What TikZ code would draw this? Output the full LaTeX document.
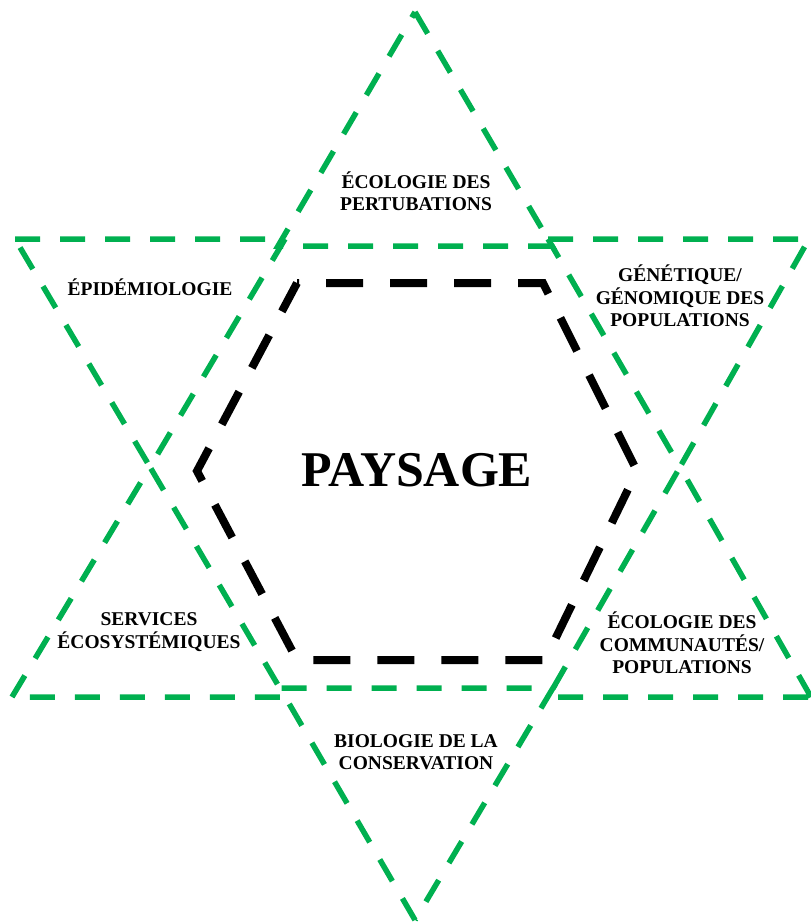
\documentclass[tikz,border=0pt]{standalone}
\usepackage{fontspec}
\setmainfont{Liberation Serif}
\definecolor{leafgreen}{HTML}{00B050}

\begin{document}
\begin{tikzpicture}[
    x=1pt, y=-1pt,
    tri/.style={draw=leafgreen, line width=5.5pt, dash pattern=on 25pt off 20pt},
    hexa/.style={draw=black, line width=8pt, dash pattern=on 37pt off 27pt, dash phase=35pt},
    field/.style={font=\bfseries\fontsize{19.5}{22.5}\selectfont, align=center, inner sep=0pt},
    core/.style={font=\bfseries\fontsize{50}{56}\selectfont, inner sep=0pt}
]
\useasboundingbox (0,0) rectangle (811,922);

% outer triangles
\draw[tri] (415,12) -- (552,246) -- (278,246) -- cycle; % top
\draw[tri] (15,239) -- (285,239) -- (150,467) -- cycle; % upper left
\draw[tri] (548,239) -- (809,239) -- (680,467) -- cycle; % upper right
\draw[tri] (12,697) -- (150,467) -- (285,697) -- cycle; % lower left
\draw[tri] (811,697) -- (680,467) -- (548,697) -- cycle; % lower right
\draw[tri] (415,920) -- (280,688) -- (553,688) -- cycle; % bottom

% central hexagon
\draw[hexa] (297,283) -- (543,283) -- (637,471) -- (545,660) -- (297,660) -- (197,471) -- cycle;

% labels
\node[core] (paysage) at (417,470) {PAYSAGE};
\node[field] (pert) at (416,191) {ÉCOLOGIE DES\\PERTUBATIONS};
\node[field] (epid) at (150,287) {ÉPIDÉMIOLOGIE};
\node[field] (gene) at (680,296) {GÉNÉTIQUE/\\GÉNOMIQUE DES\\POPULATIONS};
\node[field] (serv) at (149,632) {SERVICES\\ÉCOSYSTÉMIQUES};
\node[field] (comm) at (682,643) {ÉCOLOGIE DES\\COMMUNAUTÉS/\\POPULATIONS};
\node[field] (cons) at (416,752) {BIOLOGIE DE LA\\CONSERVATION};
\end{tikzpicture}
\end{document}
